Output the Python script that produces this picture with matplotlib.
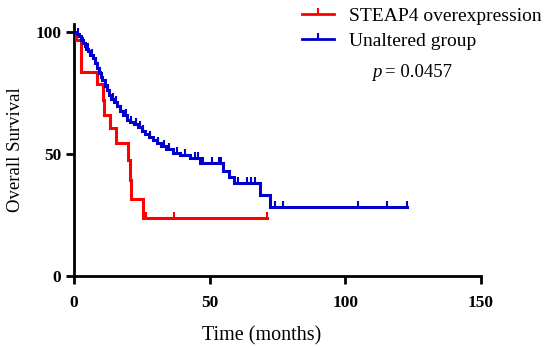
import matplotlib
matplotlib.use("Agg")
import matplotlib.pyplot as plt
from matplotlib.path import Path
from matplotlib.lines import Line2D

# STEAP4 overexpression group: step times (months) and survival (%) after each step
red_t = [0, 0.8, 2.6, 8.5, 10.6, 11.2, 13.3, 15.5, 20.0, 20.6, 21.2, 25.5]
red_s = [100, 96.7, 83.3, 78.7, 72.0, 65.7, 60.5, 54.4, 47.5, 39.3, 31.5, 23.7]
red_end = 71.3
red_cens = [26.5, 37.0, 71.3]

# Unaltered group
blue_t = [0, 1.0, 1.8, 2.5, 3.2, 4.0, 4.6, 5.3, 6.0, 7.0, 7.8, 8.5, 9.2, 9.8, 10.5,
          11.4, 12.2, 13.0, 13.8, 14.8, 16.0, 17.0, 18.2, 19.5, 20.5, 22.0, 23.6,
          25.0, 26.2, 27.5, 29.0, 30.5, 32.0, 34.0, 36.5, 39.0, 42.8, 46.4, 55.0,
          57.0, 59.0, 68.5, 72.2]
blue_s = [100, 99, 98, 96.7, 95.5, 94, 93, 92, 90.5, 89, 87, 85, 83, 81.5, 80,
          77.6, 76, 74, 72.5, 71, 69.4, 67.5, 66, 64, 63, 62, 61,
          59.5, 58, 57, 55.5, 54.2, 53, 52, 50.5, 49.5, 48.4, 46.3, 43,
          40.5, 38, 33, 28.3]
blue_end = 122.6
blue_cens = [1.4, 3.5, 5.0, 6.5, 8.0, 10.0, 12.6, 14.2, 15.5, 17.5, 19.0, 21.0,
             22.8, 24.3, 25.6, 28.2, 31.0, 33.0, 35.0, 38.0,
             41.0, 44.6, 45.7, 47.5, 51.0, 53.5, 54.2, 60.5, 63.8, 65.4, 66.7,
             74.0, 77.0, 104.7, 115.4, 122.6]

p_text = "0.0457"
xticks = [0, 50, 100, 150]
yticks = [0, 50, 100]

RED = "#FF0000"
BLUE = "#0000CC"
SERIF = "Liberation Serif"
tick_up = Path([[0, 0], [0, 1]])


def km_plot(ax, t, s, end, cens, color):
    xs = list(t) + [end]
    ys = list(s) + [s[-1]]
    ax.step(xs, ys, where="post", color=color, lw=2.2, solid_joinstyle="miter", zorder=3)
    cy = []
    for c in cens:
        v = s[0]
        for ti, si in zip(t, s):
            if ti <= c:
                v = si
        cy.append(v)
    ax.plot(cens, cy, ls="none", marker=tick_up, ms=9, mew=1.5, color=color, zorder=3)


fig = plt.figure(figsize=(5.5, 3.48), dpi=100)
ax = fig.add_axes([0.1345, 0.2069, 0.74, 0.7236])

km_plot(ax, red_t, red_s, red_end, red_cens, RED)
km_plot(ax, blue_t, blue_s, blue_end, blue_cens, BLUE)

ax.set_xlim(0, 150)
ax.set_ylim(0, 103)
ax.set_xticks(xticks)
ax.set_yticks(yticks)
for sp in ["top", "right"]:
    ax.spines[sp].set_visible(False)
for sp in ["left", "bottom"]:
    ax.spines[sp].set_linewidth(2.0)
ax.tick_params(direction="out", length=6, width=2.0, labelsize=12.5)
ax.tick_params(axis="x", pad=8)
ax.tick_params(axis="y", pad=3)
for lab in ax.get_xticklabels() + ax.get_yticklabels():
    lab.set_fontfamily(SERIF)
    lab.set_fontweight("bold")

ax.set_xlabel("Time (months)", family=SERIF, fontsize=14.5)
ax.xaxis.set_label_coords(0.462, -0.2)
ax.set_ylabel("Overall Survival", family=SERIF, fontsize=13.5, labelpad=8)

handles = [Line2D([], [], color=RED, lw=2.0, marker=tick_up, ms=9, mew=1.5),
           Line2D([], [], color=BLUE, lw=2.0, marker=tick_up, ms=9, mew=1.5)]
fig.legend(handles, ["STEAP4 overexpression", "Unaltered group"],
           loc="upper left", bbox_to_anchor=(0.518, 1.03), frameon=False,
           prop={"family": SERIF, "size": 14}, handlelength=1.6,
           numpoints=1, labelspacing=0.4, handletextpad=0.8)
fig.text(0.676, 0.78, "p", family=SERIF, style="italic", fontsize=13.5)
fig.text(0.700, 0.78, "= " + p_text, family=SERIF, fontsize=13.5)

fig.savefig("out.png", dpi=100)
